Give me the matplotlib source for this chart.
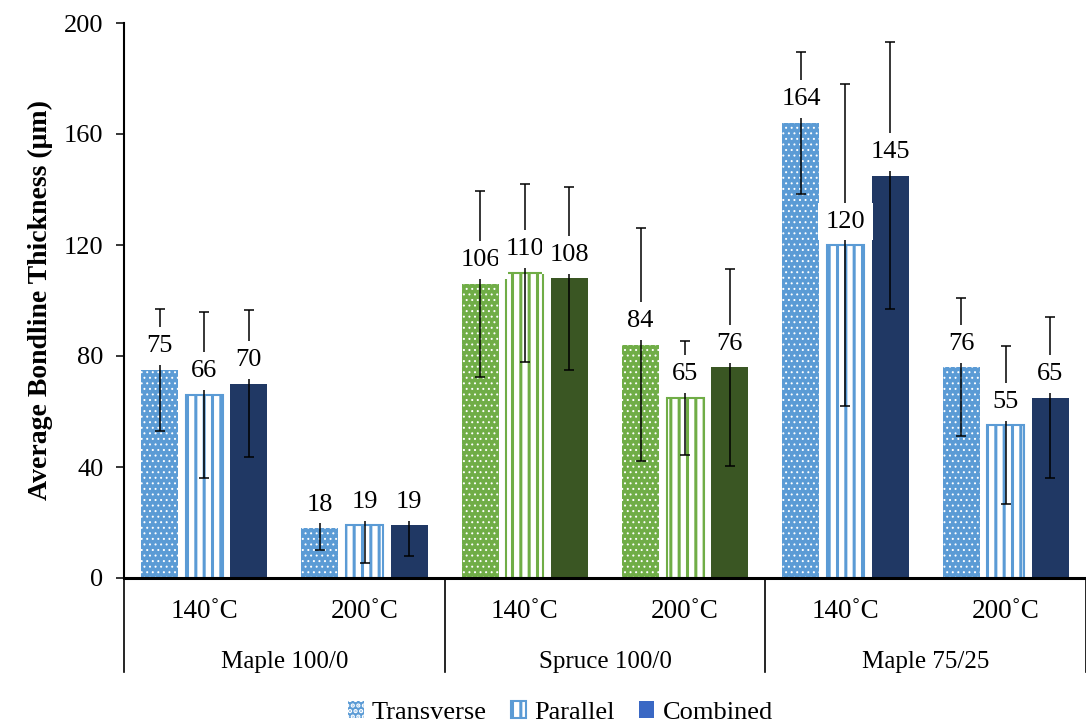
import numpy as np
import matplotlib
matplotlib.use("Agg")
import matplotlib.pyplot as plt
from matplotlib.patches import Patch

plt.rcParams['font.family'] = ['Liberation Serif', 'DejaVu Serif']
plt.rcParams['hatch.linewidth'] = 2.2

# ----- data -----
groups = ['Maple 100/0', 'Spruce 100/0', 'Maple 75/25']
temps = ['140˚C', '200˚C', '140˚C', '200˚C', '140˚C', '200˚C']

transverse = [75, 18, 106, 84, 164, 76]
parallel = [66, 19, 110, 65, 120, 55]
combined = [70, 19, 108, 76, 145, 65]

transverse_err = [22, 8, 33.5, 42, 25.5, 25]
parallel_err = [30, 13.5, 32, 20.5, 58, 28.5]
combined_err = [26.5, 11, 33, 35.5, 48, 29]

# ----- colours -----
blue, navy = '#5B9BD5', '#203864'
green, dkgreen = '#70AD47', '#3A5623'
light = [blue, blue, green, green, blue, blue]
dark = [navy, navy, dkgreen, dkgreen, navy, navy]

fig = plt.figure(figsize=(10.86, 7.22), dpi=100)
ax = fig.add_axes([124 / 1086, 144 / 722, 962 / 1086, 555 / 722])

x = np.arange(len(temps))
step, w = 0.278, 0.23

# transverse: blue with small white dots
with plt.rc_context({'hatch.linewidth': 0.7}):
    for xi, v, c in zip(x - step, transverse, light):
        ax.bar(xi, v, w, color=c, edgecolor='white', linewidth=0, hatch='...', zorder=2)
    dot_patch = Patch(facecolor=blue, edgecolor='white', linewidth=0, hatch='...')
# parallel: white with coloured vertical stripes
for xi, v, c in zip(x, parallel, light):
    ax.bar(xi, v, w, facecolor='white', edgecolor=c, linewidth=1.5, hatch='||', zorder=2)
# combined: solid dark
for xi, v, c in zip(x + step, combined, dark):
    ax.bar(xi, v, w, color=c, linewidth=0, zorder=2)

for off, vals, errs in [(-step, transverse, transverse_err),
                        (0, parallel, parallel_err),
                        (step, combined, combined_err)]:
    ax.errorbar(x + off, vals, yerr=errs, fmt='none', ecolor='black',
                elinewidth=1.1, capsize=3.8, capthick=1.1, zorder=3)
    for xi, v in zip(x + off, vals):
        ax.annotate(f"{v:.0f}", (xi, v), xytext=(0, 9), textcoords='offset points',
                    ha='center', va='bottom', fontsize=19,
                    bbox=dict(boxstyle='square,pad=0.3', fc='white', ec='none'),
                    zorder=4)

ax.set_xlim(-0.5, 5.5)
ax.set_ylim(0, 200)
ax.set_yticks([0, 40, 80, 120, 160, 200])
ax.tick_params(axis='y', labelsize=19, length=5.8, width=1.1, pad=9)
ax.set_xticks([])
ax.set_ylabel('Average Bondline Thickness (μm)', fontsize=20, fontweight='bold', labelpad=8)

for s in ['top', 'right']:
    ax.spines[s].set_visible(False)
ax.spines['left'].set_linewidth(1.5)
ax.spines['bottom'].set_linewidth(2.2)

# ----- two-level category axis -----
trans = ax.get_xaxis_transform()
for xi, t in zip(x, temps):
    ax.text(xi, -0.06, t, transform=trans, ha='center', va='center', fontsize=19.5)
for gi, g in enumerate(groups):
    ax.text(2 * gi + 0.5, -0.152, g, transform=trans, ha='center', va='center', fontsize=18)
for xs in [-0.5, 1.5, 3.5, 5.5]:
    ax.plot([xs, xs], [0, -0.17], transform=trans, color='black', lw=1.2, clip_on=False)

# ----- legend -----
handles = [dot_patch,
           Patch(facecolor='white', edgecolor=blue, linewidth=1.5, hatch='||'),
           Patch(facecolor='#3A68C4', linewidth=0)]
fig.legend(handles, ['Transverse', 'Parallel', 'Combined'], loc='lower center',
           bbox_to_anchor=(0.516, -0.035), ncol=3, frameon=False, fontsize=19,
           handlelength=0.6, handleheight=0.6, handletextpad=0.3, columnspacing=0.9)

fig.savefig('out.png', dpi=100)
